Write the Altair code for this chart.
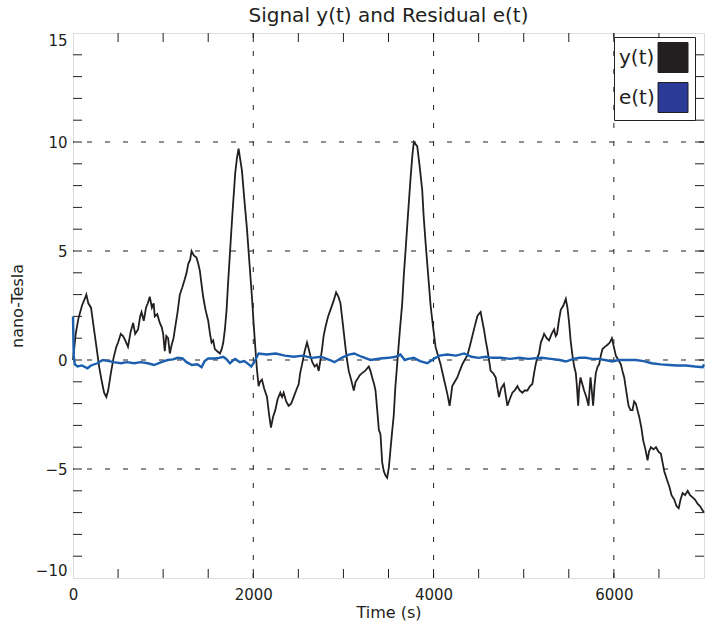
import altair as alt
import pandas as pd

# ---- data ----
sig_t = [0, 30, 60, 100, 130, 148, 170, 200, 230, 260, 290, 320, 345, 370, 390, 420, 450, 480, 500, 530,
         555, 580, 610, 640, 667, 690, 722, 745, 760, 785, 810, 830, 852, 875, 895, 907, 935, 963, 985, 1000,
         1018, 1035, 1055, 1074, 1095, 1115, 1130, 1160, 1185, 1210, 1240, 1260, 1278, 1300, 1315, 1340, 1370, 1390, 1407, 1425,
         1444, 1470, 1500, 1520, 1537, 1555, 1574, 1600, 1630, 1650, 1667, 1685, 1704, 1720, 1741, 1770, 1800, 1820, 1837, 1855,
         1874, 1900, 1930, 1960, 1985, 2005, 2022, 2040, 2059, 2075, 2096, 2120, 2152, 2175, 2196, 2220, 2244, 2270, 2300, 2320,
         2337, 2365, 2392, 2420, 2448, 2475, 2504, 2520, 2541, 2570, 2596, 2615, 2633, 2655, 2681, 2705, 2726, 2745, 2763, 2780,
         2800, 2830, 2856, 2890, 2919, 2945, 2967, 2995, 3022, 3040, 3059, 3085, 3115, 3135, 3152, 3180, 3207, 3240, 3260, 3281,
         3300, 3319, 3340, 3356, 3375, 3393, 3411, 3430, 3448, 3467, 3485, 3505, 3522, 3540, 3559, 3575, 3596, 3625, 3652, 3670,
         3689, 3715, 3744, 3765, 3781, 3800, 3819, 3845, 3874, 3890, 3911, 3940, 3967, 3995, 4022, 4050, 4078, 4105, 4133, 4155,
         4178, 4195, 4207, 4235, 4263, 4290, 4319, 4345, 4374, 4400, 4430, 4460, 4485, 4500, 4522, 4540, 4559, 4578, 4596, 4615,
         4633, 4660, 4689, 4705, 4726, 4750, 4781, 4800, 4819, 4845, 4874, 4900, 4930, 4955, 4985, 5010, 5041, 5070, 5096, 5115,
         5133, 5150, 5170, 5190, 5210, 5226, 5255, 5281, 5310, 5337, 5355, 5370, 5390, 5411, 5440, 5467, 5485, 5504, 5520, 5541,
         5560, 5578, 5590, 5604, 5615, 5630, 5650, 5670, 5695, 5719, 5730, 5741, 5755, 5770, 5785, 5800, 5820, 5837, 5855, 5874,
         5900, 5930, 5955, 5978, 6000, 6022, 6050, 6078, 6095, 6115, 6140, 6163, 6185, 6207, 6225, 6244, 6262, 6281, 6305, 6326,
         6350, 6374, 6390, 6411, 6440, 6467, 6495, 6522, 6540, 6559, 6590, 6615, 6640, 6670, 6695, 6719, 6740, 6763, 6790, 6819,
         6845, 6874, 6900, 6930, 6955, 6985, 7000]
sig_v = [0.0, 1.2, 1.9, 2.5, 2.8, 3.0, 2.6, 2.4, 1.5, 0.6, -0.3, -1.0, -1.5, -1.7, -1.4, -0.6, 0.1, 0.6, 0.8, 1.2,
         1.1, 0.9, 0.6, 1.3, 1.7, 1.2, 1.4, 2.0, 2.2, 1.8, 2.4, 2.6, 2.9, 2.4, 2.6, 2.0, 2.1, 1.7, 1.5, 1.2,
         0.4, 1.1, 1.0, 0.3, 0.7, 1.0, 1.4, 2.2, 3.0, 3.3, 3.7, 4.0, 4.4, 4.6, 5.0, 4.8, 4.7, 4.4, 4.1, 3.5,
         2.9, 2.3, 1.8, 1.2, 0.8, 0.9, 0.5, 0.4, 0.3, 0.5, 0.8, 1.4, 2.3, 3.5, 4.9, 6.8, 8.6, 9.3, 9.7, 9.2,
         8.7, 7.4, 6.0, 4.3, 2.9, 1.6, 0.6, -0.4, -1.2, -1.0, -0.9, -1.3, -1.7, -2.5, -3.1, -2.6, -2.3, -1.8, -1.5, -1.7,
         -1.5, -1.9, -2.1, -2.0, -1.7, -1.4, -1.1, -0.6, -0.2, 0.4, 0.8, 0.5, 0.2, -0.1, -0.3, -0.2, -0.5, 0.0, 0.5, 1.1,
         1.5, 2.0, 2.3, 2.7, 3.1, 2.9, 2.6, 1.6, 0.6, 0.0, -0.5, -0.9, -1.4, -1.0, -0.9, -0.7, -0.6, -0.5, -0.4, -0.3,
         -0.5, -0.8, -1.1, -1.4, -2.3, -3.2, -3.4, -4.7, -5.1, -5.3, -5.4, -4.9, -4.1, -3.3, -2.5, -1.3, -0.2, 1.3, 2.6, 3.9,
         5.0, 6.6, 8.3, 9.4, 10.0, 9.9, 9.8, 8.9, 7.8, 6.6, 5.4, 3.9, 2.5, 1.5, 0.6, 0.2, -0.2, -0.7, -1.2, -1.6,
         -2.1, -1.6, -1.2, -1.0, -0.8, -0.5, -0.2, 0.0, 0.2, 0.6, 1.1, 1.6, 2.0, 2.1, 2.2, 1.8, 1.4, 0.9, 0.5, 0.0,
         -0.5, -0.6, -0.8, -1.2, -1.7, -1.3, -1.1, -1.6, -2.1, -1.8, -1.5, -1.4, -1.2, -1.4, -1.5, -1.4, -1.4, -1.2, -1.1, -0.6,
         -0.2, 0.1, 0.3, 0.8, 1.0, 1.2, 1.0, 0.9, 1.2, 1.4, 1.1, 1.2, 1.8, 2.3, 2.5, 2.8, 2.4, 1.7, 0.9, 0.2,
         -0.3, -0.6, -1.2, -2.1, -1.3, -0.8, -1.1, -1.4, -1.7, -2.1, -1.4, -0.8, -1.4, -2.1, -1.2, -0.6, -0.3, -0.2, 0.2, 0.5,
         0.6, 0.7, 0.8, 1.0, 0.6, 0.2, 0.0, -0.2, -0.5, -0.8, -1.5, -2.1, -2.3, -2.3, -1.9, -2.0, -2.3, -2.6, -3.1, -3.7,
         -4.1, -4.6, -4.2, -4.0, -4.1, -4.0, -4.2, -4.3, -4.7, -5.1, -5.5, -5.8, -6.2, -6.4, -6.7, -6.8, -6.4, -6.1, -6.2, -6.0,
         -6.2, -6.3, -6.4, -6.6, -6.7, -6.9, -7.0]

res_t = [0, 8, 20, 50, 100, 160, 200, 270, 330, 400, 450, 530, 600, 680, 750, 830, 900, 980, 1050, 1110,
         1160, 1215, 1260, 1320, 1380, 1426, 1460, 1500, 1570, 1620, 1667, 1700, 1741, 1780, 1800, 1850, 1900, 1950, 1978, 2010,
         2059, 2150, 2250, 2350, 2450, 2550, 2650, 2750, 2850, 2900, 2980, 3060, 3120, 3200, 3300, 3411, 3500, 3580, 3633, 3680,
         3720, 3780, 3850, 3930, 4000, 4063, 4150, 4250, 4340, 4420, 4500, 4580, 4650, 4750, 4850, 4950, 5050, 5200, 5300, 5400,
         5467, 5550, 5620, 5689, 5760, 5830, 5900, 5985, 6050, 6150, 6244, 6330, 6420, 6520, 6615, 6700, 6800, 6900, 6985, 7000]
res_v = [2.0, 0.2, -0.2, -0.3, -0.25, -0.38, -0.25, -0.15, 0.0, -0.05, -0.1, -0.15, -0.1, -0.15, -0.1, -0.15, -0.23, -0.1, 0.0, 0.03,
         0.1, 0.07, -0.1, -0.23, -0.2, -0.33, -0.05, 0.07, 0.07, 0.1, 0.15, 0.05, -0.15, 0.0, 0.05, -0.1, -0.05, -0.2, -0.3, -0.1,
         0.3, 0.25, 0.3, 0.2, 0.15, 0.2, 0.1, 0.15, 0.0, -0.1, 0.1, 0.25, 0.3, 0.15, 0.0, 0.07, 0.1, 0.15, 0.25, 0.0,
         0.05, 0.1, -0.05, -0.15, 0.05, 0.2, 0.25, 0.2, 0.3, 0.15, 0.1, 0.15, 0.1, 0.1, 0.05, 0.1, 0.05, 0.1, 0.05, 0.0,
         -0.07, 0.05, 0.1, 0.1, 0.05, 0.05, 0.0, -0.07, 0.0, 0.0, 0.0, -0.05, -0.15, -0.2, -0.23, -0.25, -0.25, -0.3, -0.33, -0.2]

x_major = [0, 2000, 4000, 6000]
x_grid = [2000, 4000, 6000]
x_minor = [500, 1000, 1500, 2000, 2500, 3000, 3500, 4000, 4500, 5000, 5500, 6000, 6500]
y_major = [-10, -5, 0, 5, 10, 15]
y_grid = [-5, 0, 5, 10]
y_minor = [-9, -8, -7, -6, -5, -4, -3, -2, -1, 0, 1, 2, 3, 4, 5, 6, 7, 8, 9, 10, 11, 12, 13, 14]
legend_names = ["y(t)", "e(t)"]
legend_colors = ["#231f20", "#2b3a97"]

W, H = 631, 545
INK = "#231f20"
FONT = "DejaVu Sans"

sig = pd.DataFrame({"t": sig_t, "v": sig_v})
res = pd.DataFrame({"t": res_t, "v": res_v})

xscale = alt.Scale(domain=[0, 7000], nice=False, zero=False)
yscale = alt.Scale(domain=[-10, 15], nice=False, zero=False)
xaxis = alt.Axis(values=x_major, ticks=False, tickSize=0, domain=False, grid=False,
                 labelPadding=9, labelFontSize=15, labelFont=FONT, labelColor=INK, labelFlush=False,
                 titleFontSize=16, titleFont=FONT, titleColor=INK, titleFontWeight="normal",
                 titleY=34, titleBaseline="middle", format="d")
yaxis = alt.Axis(values=y_major, ticks=False, tickSize=0, domain=False, grid=False,
                 labelPadding=6, labelFontSize=15, labelFont=FONT, labelColor=INK, labelFlush=True,
                 titleFontSize=16, titleFont=FONT, titleColor=INK, titleFontWeight="normal",
                 titleX=-56, titleY=H / 2, titleAngle=270, titleBaseline="middle", titleAlign="center",
                 format="d")
X = alt.X("t:Q", scale=xscale, axis=xaxis, title="Time (s)")
Y = alt.Y("v:Q", scale=yscale, axis=yaxis, title="nano-Tesla")

dash = [5, 13]
hgrid = alt.Chart(pd.DataFrame({"v": y_grid})).mark_rule(color=INK, strokeDash=dash, strokeWidth=1).encode(y=Y)
vgrid = alt.Chart(pd.DataFrame({"t": x_grid})).mark_rule(color=INK, strokeDash=dash, strokeWidth=1).encode(x=X)

xt = pd.DataFrame({"t": x_minor})
yt = pd.DataFrame({"v": y_minor})
tick_b = alt.Chart(xt).mark_rule(color=INK).encode(x=X, y=alt.value(H), y2=alt.value(H - 9))
tick_t = alt.Chart(xt).mark_rule(color=INK).encode(x=X, y=alt.value(0), y2=alt.value(9))
tick_l = alt.Chart(yt).mark_rule(color=INK).encode(y=Y, x=alt.value(0), x2=alt.value(9))
tick_r = alt.Chart(yt).mark_rule(color=INK).encode(y=Y, x=alt.value(W), x2=alt.value(W - 9))

line_sig = alt.Chart(sig).mark_line(color=INK, strokeWidth=1.8).encode(x=X, y=Y)
line_res = alt.Chart(res).mark_line(color="#1c5fae", strokeWidth=2.4).encode(x=X, y=Y)

leg = alt.Chart(pd.DataFrame({"name": legend_names})).mark_square(opacity=0).encode(
    x=alt.value(0), y=alt.value(0),
    fill=alt.Fill("name:N", scale=alt.Scale(domain=legend_names, range=legend_colors),
                  legend=alt.Legend(orient="none", legendX=541, legendY=4, title=None,
                                    symbolType="square", symbolSize=900, symbolOpacity=1,
                                    symbolStrokeColor=INK, symbolStrokeWidth=1,
                                    labelFontSize=20, labelFont=FONT, labelColor=INK,
                                    labelOffset=alt.ExprRef(expr="-69.5"), symbolOffset=38.5,
                                    padding=5, strokeColor=INK, fillColor="white", rowPadding=5)),
)

chart = alt.layer(hgrid, vgrid, tick_b, tick_t, tick_l, tick_r, line_sig, line_res, leg).properties(
    width=W, height=H,
    title=alt.TitleParams("Signal y(t) and Residual e(t)", fontSize=20, font=FONT, color=INK,
                          fontWeight="normal", anchor="middle", baseline="alphabetic", offset=9, dy=21),
    autosize=alt.AutoSizeParams(type="none"),
    padding={"left": 73, "top": 33, "right": 2, "bottom": 47},
).configure_view(stroke=INK, strokeWidth=1).configure(background="white")

chart.save("out.html", embed_options={"renderer": "svg", "actions": False})
